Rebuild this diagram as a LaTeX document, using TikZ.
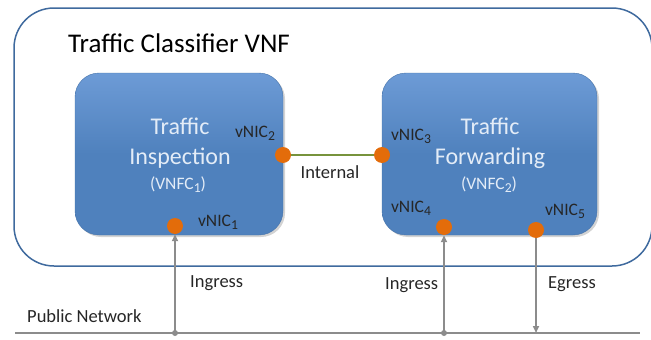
\documentclass[tikz,border=0pt]{standalone}
\usepackage{fontspec}
\setmainfont{Carlito}
\usetikzlibrary{arrows.meta,shadows}
\newcommand\lowidx[1]{\raisebox{-0.35ex}{\scalebox{0.78}{#1}}}
\definecolor{frameblue}{HTML}{3F6A9E}
\definecolor{boxblue}{HTML}{4F81BD}
\definecolor{boxtop}{HTML}{6D9BD6}
\definecolor{boxtxt}{HTML}{E3ECF7}
\definecolor{nicorange}{HTML}{E36C0A}
\definecolor{linkgray}{HTML}{8C8C8C}
\definecolor{intgreen}{HTML}{77933C}
\tikzset{
  vnfc/.style={rounded corners=24pt, top color=boxtop, bottom color=boxblue, middle color=boxblue,
    draw=boxblue!90!black, line width=0.4pt, drop shadow={opacity=0.35, shadow xshift=2pt, shadow yshift=-2pt}},
  nic/.style={circle, fill=nicorange, minimum size=16pt, inner sep=0pt},
  niclab/.style={font=\fontsize{17.5}{19}\selectfont, text=black!85},
  boxlab/.style={font=\fontsize{24}{30}\selectfont, text=boxtxt, align=center},
  sublab/.style={font=\fontsize{17.5}{20}\selectfont, text=boxtxt},
  plain/.style={font=\fontsize{18.5}{21}\selectfont, text=black!85},
  wire/.style={draw=linkgray, line width=1.6pt},
  tip/.style={-{Triangle[length=7pt,width=6pt]}},
  joint/.style={circle, fill=linkgray, minimum size=6pt, inner sep=0pt}
}
\begin{document}
\begin{tikzpicture}[x=1pt,y=-1pt]
\useasboundingbox (0,0) rectangle (651,340);
% outer VNF frame
\draw[frameblue, line width=1.5pt, rounded corners=40pt] (14,8) rectangle (652,266);
\node[anchor=west, inner sep=0pt, font=\fontsize{27}{31}\selectfont] (title) at (68,43) {Traffic Classifier VNF};
% VNFC boxes
\path[vnfc] (75,73) rectangle (283,235);
\path[vnfc] (382,73) rectangle (597,235);
\node[boxlab] (ti) at (180,143) {Traffic\\Inspection};
\node[sublab] (tis) at (178,185) {(VNFC\lowidx{1})};
\node[boxlab] (tf) at (490,143) {Traffic\\Forwarding};
\node[sublab] (tfs) at (489,185) {(VNFC\lowidx{2})};
% public network
\coordinate (pnl) at (15,333);
\coordinate (pnr) at (640,333);
\draw[wire] (pnl) -- (pnr);
\node[plain, anchor=west, inner sep=0pt] (pn) at (27,316) {Public Network};
% NICs
\node[nic] (n2) at (283,155) {};
\node[nic] (n3) at (382,155) {};
\node[nic] (n1) at (175,226) {};
\node[nic] (n4) at (444,227) {};
\node[nic] (n5) at (536,230) {};
\draw[intgreen, line width=1.6pt] (n2) -- (n3);
\node[plain] (int) at (330,172) {Internal};
\node[niclab] (l2) at (255,133) {vNIC\lowidx{2}};
\node[niclab] (l3) at (411,136) {vNIC\lowidx{3}};
\node[niclab] (l1) at (218,222) {vNIC\lowidx{1}};
\node[niclab] (l4) at (411,208) {vNIC\lowidx{4}};
\node[niclab] (l5) at (565,211) {vNIC\lowidx{5}};
% links
\node[joint] (j1) at (175,333) {};
\node[joint] (j4) at (444,333) {};
\coordinate (e5) at (536,333);
\draw[wire, tip] (j1.center) -- (n1.south);
\draw[wire, tip] (j4.center) -- (n4.south);
\draw[wire, tip] (n5.south) -- (e5);
\node[plain, anchor=west, inner sep=0pt] (ing1) at (190,283) {Ingress};
\node[plain, anchor=west, inner sep=0pt] (ing2) at (385,285) {Ingress};
\node[plain, anchor=west, inner sep=0pt] (egr) at (548,284) {Egress};
\end{tikzpicture}
\end{document}
